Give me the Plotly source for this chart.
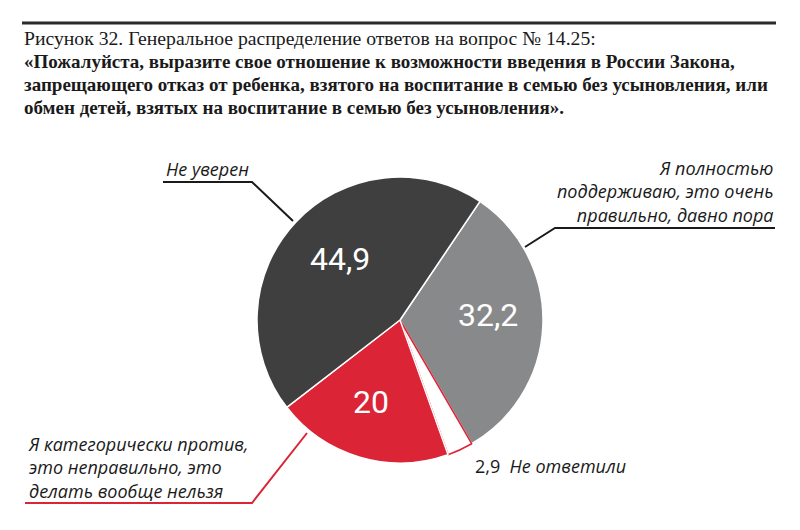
import math
import plotly.graph_objects as go

W, H = 800, 530

labels = ["Я полностью поддерживаю, это очень правильно, давно пора",
          "Не ответили",
          "Я категорически против, это неправильно, это делать вообще нельзя",
          "Не уверен"]
values = [32.2, 2.9, 20, 44.9]
value_text = ["32,2", "2,9", "20", "44,9"]
colors = ["#88898b", "#ffffff", "#dc2437", "#3f3f3f"]
line_colors = ["#ffffff", "#dc2437", "#ffffff", "#ffffff"]

title_line1 = "Рисунок 32. Генеральное распределение ответов на вопрос № 14.25:"
title_bold = ["«Пожалуйста, выразите свое отношение к возможности введения в России Закона,",
              "запрещающего отказ от ребенка, взятого на воспитание в семью без усыновления, или",
              "обмен детей, взятых на воспитание в семью без усыновления»."]

def px(x):
    return x / W

def py(y):
    return 1 - y / H

cx, cy, r = 400, 320, 143
rotation = 34

fig = go.Figure(go.Pie(
    labels=labels, values=values,
    textinfo="none", sort=False, direction="clockwise", rotation=rotation,
    marker=dict(colors=colors, line=dict(color=line_colors, width=1.5)),
    domain=dict(x=[px(cx - r), px(cx + r)], y=[py(cy + r), py(cy - r)]),
    showlegend=False, hoverinfo="label+value",
))

shapes = [
    dict(type="line", xref="paper", yref="paper", x0=px(22), x1=px(776), y0=py(23), y1=py(23),
         line=dict(color="#2b2b2b", width=3)),
    dict(type="path", xref="paper", yref="paper",
         path=f"M {px(163)} {py(182)} L {px(252)} {py(182)} L {px(293)} {py(221)}",
         line=dict(color="#1a1a1a", width=2)),
    dict(type="path", xref="paper", yref="paper",
         path=f"M {px(775)} {py(228)} L {px(555)} {py(228)} L {px(525)} {py(247)}",
         line=dict(color="#1a1a1a", width=2)),
    dict(type="path", xref="paper", yref="paper",
         path=f"M {px(25)} {py(503)} L {px(252)} {py(503)} L {px(307)} {py(433)}",
         line=dict(color="#dc2437", width=2)),
]

serif = "Liberation Serif, Times New Roman, serif"
lab_font = dict(family="Open Sans, sans-serif", size=18, color="#1a1a1a")

annotations = [
    dict(x=px(22), y=py(38), xref="paper", yref="paper", xanchor="left", yanchor="middle",
         text=title_line1, showarrow=False,
         font=dict(family=serif, size=19.7, color="#1a1a1a")),
]
for i, t in enumerate(title_bold):
    annotations.append(dict(x=px(22), y=py(62 + 23 * i), xref="paper", yref="paper",
                            xanchor="left", yanchor="middle", text="<b>" + t + "</b>",
                            showarrow=False, font=dict(family=serif, size=19, color="#1a1a1a")))

# value labels inside slices, placed on each slice's bisector
total = sum(values)
nudge = [(0, -8), (0, 0), (-4, -2), (4, -1)]
start = rotation
for v, t, (dx, dy) in zip(values, value_text, nudge):
    mid = start + v / total * 360 / 2
    start += v / total * 360
    if v < 5:
        continue
    a = math.radians(mid)
    lx = cx + 0.615 * r * math.sin(a) + dx
    ly = cy - 0.615 * r * math.cos(a) + dy
    annotations.append(dict(x=px(lx), y=py(ly), xref="paper", yref="paper",
                            xanchor="center", yanchor="middle", text=t, showarrow=False,
                            font=dict(family="Roboto, sans-serif", size=32, color="#ffffff")))

annotations += [
    dict(x=px(164), y=py(169), xref="paper", yref="paper", xanchor="left", yanchor="middle",
         text="<i>" + labels[3] + "</i>", showarrow=False, font=lab_font),
    dict(x=px(776), y=py(192), xref="paper", yref="paper", xanchor="right", yanchor="middle",
         text="<i>Я полностью<br>поддерживаю, это очень<br>правильно, давно пора</i>",
         showarrow=False, align="right", font=lab_font),
    dict(x=px(26), y=py(467), xref="paper", yref="paper", xanchor="left", yanchor="middle",
         text="<i>Я категорически против,<br>это неправильно, это<br>делать вообще нельзя</i>",
         showarrow=False, align="left", font=lab_font),
    dict(x=px(473), y=py(466), xref="paper", yref="paper", xanchor="left", yanchor="middle",
         text=value_text[1] + "  <i>" + labels[1] + "</i>", showarrow=False, font=lab_font),
]

fig.update_layout(width=W, height=H, margin=dict(l=0, r=0, t=0, b=0),
                  paper_bgcolor="#ffffff", plot_bgcolor="#ffffff",
                  shapes=shapes, annotations=annotations)

fig.write_html("out.html")
